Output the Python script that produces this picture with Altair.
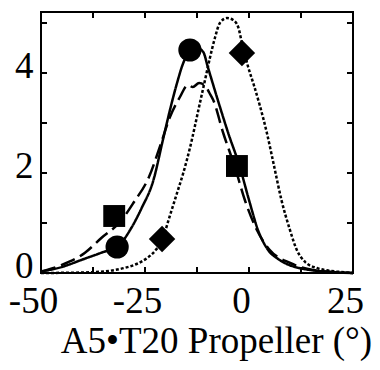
import altair as alt
import pandas as pd

# ---- data ----
solid_x = [-50, -45, -40, -35, -31.7, -28.3, -25.8, -23, -20.7, -19, -17.3, -15.8, -14, -12.5, -11, -9.9, -7.5, -5, -2.2, 0, 2.2, 4.6, 7, 9.1, 12, 14.7, 20, 25]
solid_y = [0.03, 0.12, 0.27, 0.42, 0.52, 0.9, 1.3, 1.85, 2.66, 3.26, 3.8, 4.2, 4.45, 4.5, 4.42, 4.12, 3.46, 2.8, 2.12, 1.46, 0.85, 0.46, 0.28, 0.18, 0.1, 0.06, 0.02, 0.0]

dashed_x = [-50, -45, -39.5, -35.5, -30.8, -27.8, -24, -21.4, -19, -16.6, -14.7, -13.5, -12, -10.5, -9.5, -8.6, -6.2, -3.4, -1, 1.9, 5, 9.9, 15.4, 20, 25]
dashed_y = [0.03, 0.16, 0.4, 0.7, 1.04, 1.4, 1.93, 2.53, 3.12, 3.52, 3.76, 3.72, 3.8, 3.74, 3.6, 3.46, 2.8, 2.12, 1.46, 0.86, 0.46, 0.2, 0.06, 0.02, 0.0]

dotted_x = [-50, -40, -35, -30, -27, -24.5, -22.5, -20.9, -19, -17.3, -15.8, -14.2, -11.8, -10.6, -9.4, -8.2, -7, -5.3, -3.8, -2.6, -1.7, -0.2, 1.2, 2.6, 4.3, 6, 7.8, 9.7, 11.5, 13.5, 16.3, 19, 21, 25]
dotted_y = [0.0, 0.01, 0.03, 0.1, 0.18, 0.3, 0.45, 0.66, 1.15, 1.6, 2.0, 2.5, 3.4, 3.85, 4.3, 4.7, 5.0, 5.1, 5.06, 4.92, 4.6, 4.12, 3.75, 3.35, 2.8, 2.15, 1.46, 0.9, 0.46, 0.22, 0.1, 0.05, 0.03, 0.0]

circle_x = [-31.7, -14.2]
circle_y = [0.52, 4.46]
square_x = [-32.4, -2.9]
square_y = [1.14, 2.14]
diamond_x = [-20.9, -1.7]
diamond_y = [0.68, 4.4]

x_minor_ticks = [-37.5, -25, -12.5, 0, 12.5]
y_minor_ticks = [1, 2, 3, 4, 5]
x_labels = [-50, -25, 0, 25]
y_labels = [0, 2, 4]

W, H = 312, 261
FONT = "Liberation Serif"

curves = pd.concat([
    pd.DataFrame({"x": solid_x, "y": solid_y, "s": "solid"}),
    pd.DataFrame({"x": dashed_x, "y": dashed_y, "s": "dashed"}),
    pd.DataFrame({"x": dotted_x, "y": dotted_y, "s": "dotted"}),
], ignore_index=True)

xs = alt.Scale(domain=[-50, 25], nice=False, zero=False)
ys = alt.Scale(domain=[0, 5.22], nice=False, zero=False)

x_axis = alt.Axis(
    values=x_labels, ticks=False, tickSize=0, domain=False, grid=False,
    labelFont=FONT, labelFontSize=37, labelColor="black",
    labelBaseline="alphabetic", labelPadding=39, labelOffset=-8, labelFlush=False,
    labelExpr="'' + datum.value",
    title="A5•T20 Propeller (°)", titleFont=FONT, titleFontSize=37,
    titleFontWeight="normal", titleColor="black",
    titleBaseline="alphabetic", titleAlign="center", titleX=175, titleY=79,
)
y_axis = alt.Axis(
    values=y_labels, ticks=False, tickSize=0, domain=False, grid=False,
    labelFont=FONT, labelFontSize=37, labelColor="black",
    labelPadding=8, labelOffset=-7, labelFlush=False,
    labelExpr="'' + datum.value", title=None,
)

X = alt.X("x:Q", scale=xs, axis=x_axis, title="A5•T20 Propeller (°)")
Y = alt.Y("y:Q", scale=ys, axis=y_axis, title=None)

lines = alt.Chart(curves).mark_line(color="black", strokeWidth=2.5, interpolate="monotone").encode(
    x=X, y=Y,
    strokeDash=alt.StrokeDash("s:N", scale=alt.Scale(domain=["solid", "dashed", "dotted"],
                                                     range=[[1, 0], [15, 6], [3, 2]]), legend=None),
    detail="s:N",
)

def marker(xv, yv, shape, size):
    return alt.Chart(pd.DataFrame({"x": xv, "y": yv})).mark_point(
        shape=shape, size=size, filled=True, color="black", opacity=1, strokeWidth=0
    ).encode(x=X, y=Y)

circles = marker(circle_x, circle_y, "circle", 540)
squares = marker(square_x, square_y, "square", 480)
diamonds = marker(diamond_x, diamond_y, "diamond", 700)

xt = pd.DataFrame({"x": x_minor_ticks})
yt = pd.DataFrame({"y": y_minor_ticks})
TL = 6
bottom_ticks = alt.Chart(xt).mark_rule(color="black", strokeWidth=2).encode(
    x=X, y=alt.value(H), y2=alt.value(H - TL))
top_ticks = alt.Chart(xt).mark_rule(color="black", strokeWidth=2).encode(
    x=X, y=alt.value(0), y2=alt.value(TL))
left_ticks = alt.Chart(yt).mark_rule(color="black", strokeWidth=2).encode(
    y=Y, x=alt.value(0), x2=alt.value(TL))
right_ticks = alt.Chart(yt).mark_rule(color="black", strokeWidth=2).encode(
    y=Y, x=alt.value(W), x2=alt.value(W - TL))

chart = alt.layer(lines, circles, squares, diamonds,
                  bottom_ticks, top_ticks, left_ticks, right_ticks).properties(
    width=W, height=H,
    autosize=alt.AutoSizeParams(type="none"),
    padding={"left": 33, "top": 4, "right": 19, "bottom": 89},
    background="white",
).configure_view(stroke="black", strokeWidth=2)

chart.save("out.html", embed_options={"renderer": "svg", "actions": False})
